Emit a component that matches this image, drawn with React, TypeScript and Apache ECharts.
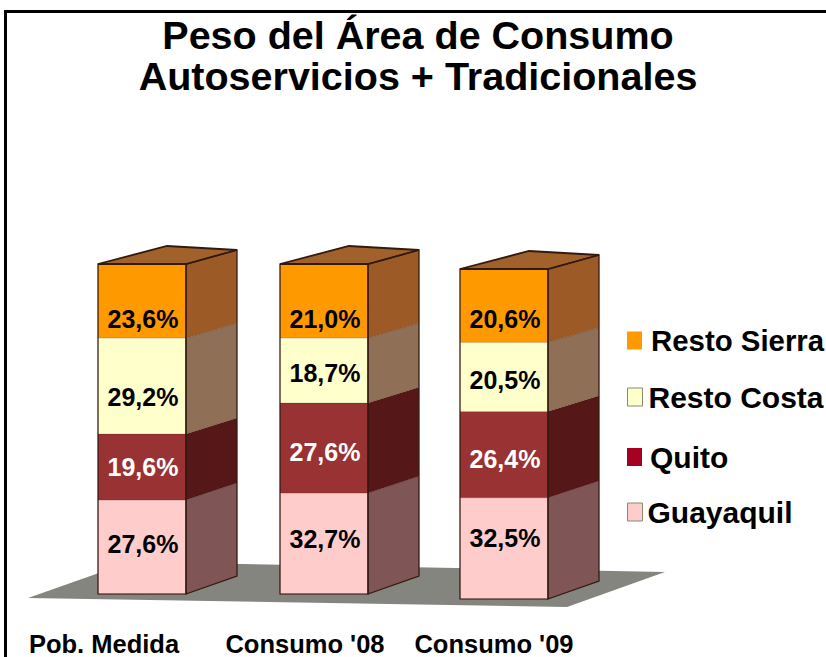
import React, { useEffect, useRef } from "react";
import * as echarts from "echarts";

const titleLines = ["Peso del Área de Consumo", "Autoservicios + Tradicionales"];
const categories = ["Pob. Medida", "Consumo '08", "Consumo '09"];
const seriesNames = ["Guayaquil", "Quito", "Resto Costa", "Resto Sierra"];

// Printed percentages
const guayaquilPrinted = [27.6, 32.7, 32.5];
const quitoPrinted = [19.6, 27.6, 26.4];
const restoCostaPrinted = [29.2, 18.7, 20.5];
const restoSierraPrinted = [23.6, 21.0, 20.6];

// Segment heights (the drawn shares differ a little from the printed ones)
const guayaquilDrawn = [28.5, 30.6, 30.7];
const quitoDrawn = [20.0, 27.3, 26.1];
const restoCostaDrawn = [29.1, 19.7, 21.0];
const restoSierraDrawn = [22.4, 22.4, 22.2];

const printed = [guayaquilPrinted, quitoPrinted, restoCostaPrinted, restoSierraPrinted];
const drawn = [guayaquilDrawn, quitoDrawn, restoCostaDrawn, restoSierraDrawn];

const frontColors = ["#FFCCCC", "#993333", "#FFFFCC", "#FF9900"];
const sideColors = ["#7F5555", "#551717", "#8F6F55", "#9C5B26"];
const legendColors = ["#FFCCCC", "#A50021", "#FFFFCC", "#FF9900"];
const labelColors = ["#000000", "#FFFFFF", "#000000", "#000000"];

const FONT = "'Liberation Sans', Arial, sans-serif";
const EDGE = "#33190F";
const BAR_HALF = 44;
const DEPTH_X = 51;
const BAR_NUDGE_X = [0, 1, 0];
const BAR_NUDGE_Y = [0, 0, 5];
const LABEL_NUDGE = [
  [-3, -5, -10],
  [0, 4, 4],
  [11, 3, 3],
  [18, 18, 13],
];

function stacked(s: number, c: number) {
  let base = 0;
  for (let k = 0; k < s; k++) base += drawn[k][c];
  return [base, base + drawn[s][c]];
}

function makeRenderItem(s: number) {
  return (_p: any, api: any) => {
    const c = api.value(0) as number;
    const cx = api.coord([c, 0])[0] + BAR_NUDGE_X[c];
    const dy = BAR_NUDGE_Y[c];
    const y0 = api.coord([c, api.value(1)])[1] + dy;
    const y1 = api.coord([c, api.value(2)])[1] + dy;
    const yTop = api.coord([c, 100])[1] + dy;
    const yBot = api.coord([c, 0])[1] + dy;
    const back = (y: number) => yTop - 14 + ((y - yTop) * 326) / 330;
    const xl = cx - BAR_HALF;
    const xr = cx + BAR_HALF;
    const children: any[] = [
      {
        type: "polygon",
        shape: { points: [[xr, y0], [xr + DEPTH_X, back(y0)], [xr + DEPTH_X, back(y1)], [xr, y1]] },
        style: { fill: sideColors[s], stroke: "rgba(50,25,15,0.35)", lineWidth: 0.5 },
      },
      {
        type: "rect",
        shape: { x: xl, y: y1, width: xr - xl, height: y0 - y1 },
        style: { fill: frontColors[s], stroke: "rgba(60,30,20,0.3)", lineWidth: 0.5 },
      },
    ];
    if (s === seriesNames.length - 1) {
      children.push(
        {
          type: "polygon",
          shape: { points: [[xl, yTop], [xr, yTop], [xr + DEPTH_X, yTop - 14], [xl + 69, yTop - 18]] },
          style: { fill: "#A0622A", stroke: EDGE, lineWidth: 1.8 },
        },
        {
          type: "polygon",
          shape: { points: [[xr, yTop], [xr + DEPTH_X, back(yTop)], [xr + DEPTH_X, back(yBot)], [xr, yBot]] },
          style: { fill: "none", stroke: EDGE, lineWidth: 1.2 },
        },
        {
          type: "rect",
          shape: { x: xl, y: yTop, width: xr - xl, height: yBot - yTop },
          style: { fill: "none", stroke: EDGE, lineWidth: 1.2 },
        }
      );
    }
    children.push({
      type: "text",
      style: {
        x: cx + 1,
        y: (y0 + y1) / 2 + LABEL_NUDGE[s][c],
        text: printed[s][c].toFixed(1).replace(".", ",") + "%",
        fill: labelColors[s],
        font: `bold 25px ${FONT}`,
        align: "center",
        verticalAlign: "middle",
      },
    });
    return { type: "group", children };
  };
}

const legendTops = [497, 442, 382, 326];
const legendTextGaps = [0, 3, 1, 4];
const legendFontSizes = [30, 30, 30, 29.4];
const categoryLabelX = [104, 305, 494];
const categoryLabelY = [643.5, 644, 644];

export default function App() {
  const ref = useRef<HTMLDivElement>(null);
  useEffect(() => {
    document.body.style.margin = "0";
    const chart = echarts.init(ref.current!, undefined, { renderer: "svg" });
    chart.setOption({
      animation: false,
      backgroundColor: "#FFFFFF",
      title: {
        text: titleLines.join("\n"),
        left: 413,
        top: 9,
        textAlign: "center",
        textStyle: { fontFamily: FONT, fontWeight: "bold", fontSize: 39.5, lineHeight: 41, color: "#000000" },
      },
      grid: { left: 51.5, width: 543, top: 264, height: 330 },
      xAxis: { type: "category", data: categories, show: false },
      yAxis: { type: "value", min: 0, max: 100, show: false },
      legend: seriesNames.map((name, i) => ({
        data: [{ name, icon: "rect", itemStyle: { color: legendColors[i], borderColor: "#8A8A70", borderWidth: i === 0 || i === 2 ? 1 : 0 } }],
        orient: "vertical",
        left: 627,
        top: legendTops[i],
        padding: 0,
        itemWidth: 15,
        itemHeight: 18,
        selectedMode: false,
        textStyle: {
          fontFamily: FONT,
          fontWeight: "bold",
          fontSize: legendFontSizes[i],
          color: "#000000",
          padding: [0, 0, 0, legendTextGaps[i]],
        },
      })),
      graphic: [
        {
          type: "polyline",
          z: 0,
          silent: true,
          shape: { points: [[5.5, 660], [5.5, 11.5], [830, 11.5]] },
          style: { fill: "none", stroke: "#000000", lineWidth: 3 },
        },
        {
          type: "polygon",
          z: 0,
          silent: true,
          shape: { points: [[28, 598], [130, 562], [665, 572], [567, 607]] },
          style: { fill: "#85857F" },
        },
        ...categories.map((text, i) => ({
          type: "text",
          x: categoryLabelX[i],
          y: categoryLabelY[i],
          style: {
            text,
            fill: "#000000",
            font: `bold 25.5px ${FONT}`,
            align: "center",
            verticalAlign: "middle",
          },
        })),
      ],
      series: seriesNames.map((name, s) => ({
        type: "custom",
        name,
        z: 5 + s,
        clip: false,
        itemStyle: { color: legendColors[s] },
        renderItem: makeRenderItem(s),
        encode: { x: 0, y: [1, 2] },
        data: categories.map((_, c) => [c, ...stacked(s, c)]),
      })),
    });
    return () => chart.dispose();
  }, []);
  return <div ref={ref} style={{ width: 826, height: 657 }} />;
}
